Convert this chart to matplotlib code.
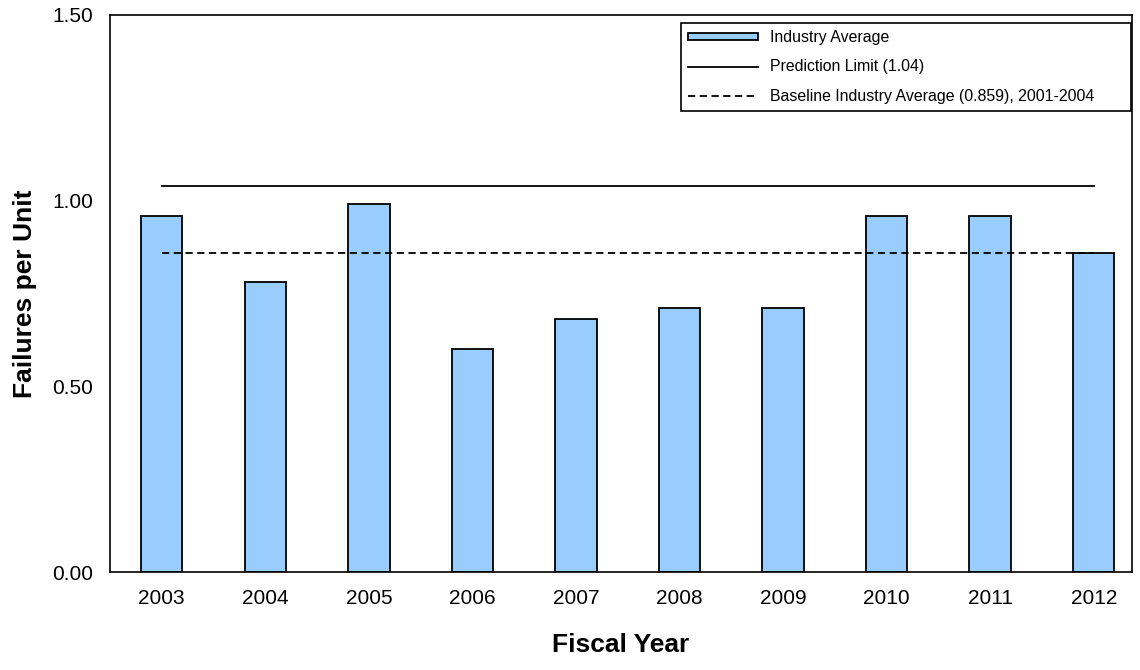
#!/usr/bin/env python3
import matplotlib
matplotlib.use("Agg")
import matplotlib.pyplot as plt

years = ["2003", "2004", "2005", "2006", "2007", "2008", "2009", "2010", "2011", "2012"]
industry_avg = [0.96, 0.78, 0.99, 0.60, 0.68, 0.71, 0.71, 0.96, 0.96, 0.86]
prediction_limit = 1.04
baseline_avg = 0.859
y_ticks = [0.0, 0.5, 1.0, 1.5]

plt.rcParams["font.family"] = ["Liberation Sans", "DejaVu Sans"]

fig = plt.figure(figsize=(11.4, 6.7), dpi=100)
ax = fig.add_axes([110 / 1140, 1 - 572 / 670, 1022 / 1140, 557 / 670])

x = list(range(len(years)))
bars = ax.bar(x, industry_avg, width=0.4, color="#99CCFF", edgecolor="black",
              linewidth=1.3, label="Industry Average", zorder=2)
pl, = ax.plot([x[0], x[-1]], [prediction_limit, prediction_limit], color="black",
              linewidth=1.3, label="Prediction Limit (1.04)", zorder=3)
bl, = ax.plot([x[0], x[-1]], [baseline_avg, baseline_avg], color="black",
              linewidth=1.3, linestyle=(0, (4, 2.5)),
              label="Baseline Industry Average (0.859), 2001-2004", zorder=3)

ax.set_xlim(-0.5, 9.37)
ax.set_ylim(0, 1.5)
ax.set_yticks(y_ticks)
ax.set_yticklabels(["{:.2f}".format(v) for v in y_ticks], fontsize=15)
ax.set_xticks(x)
ax.set_xticklabels(years, fontsize=15)
ax.tick_params(length=0, pad=12)
for s in ax.spines.values():
    s.set_linewidth(1.2)

ax.set_xlabel("Fiscal Year", fontsize=19, fontweight="bold", labelpad=18)
ax.set_ylabel("Failures per Unit", fontsize=19, fontweight="bold", labelpad=11)

leg = ax.legend([bars, pl, bl], [bars.get_label(), pl.get_label(), bl.get_label()],
                loc="upper left", mode="expand",
                bbox_to_anchor=(681 / 1140, 1 - 111 / 670, 450 / 1140, 88 / 670),
                bbox_transform=fig.transFigure, fontsize=11.4, frameon=True,
                fancybox=False, framealpha=1, edgecolor="black",
                handlelength=4.4, handleheight=0.35, labelspacing=0.9,
                borderpad=0.45, borderaxespad=0)
leg.get_frame().set_linewidth(1.2)

fig.savefig("out.png", dpi=100)
